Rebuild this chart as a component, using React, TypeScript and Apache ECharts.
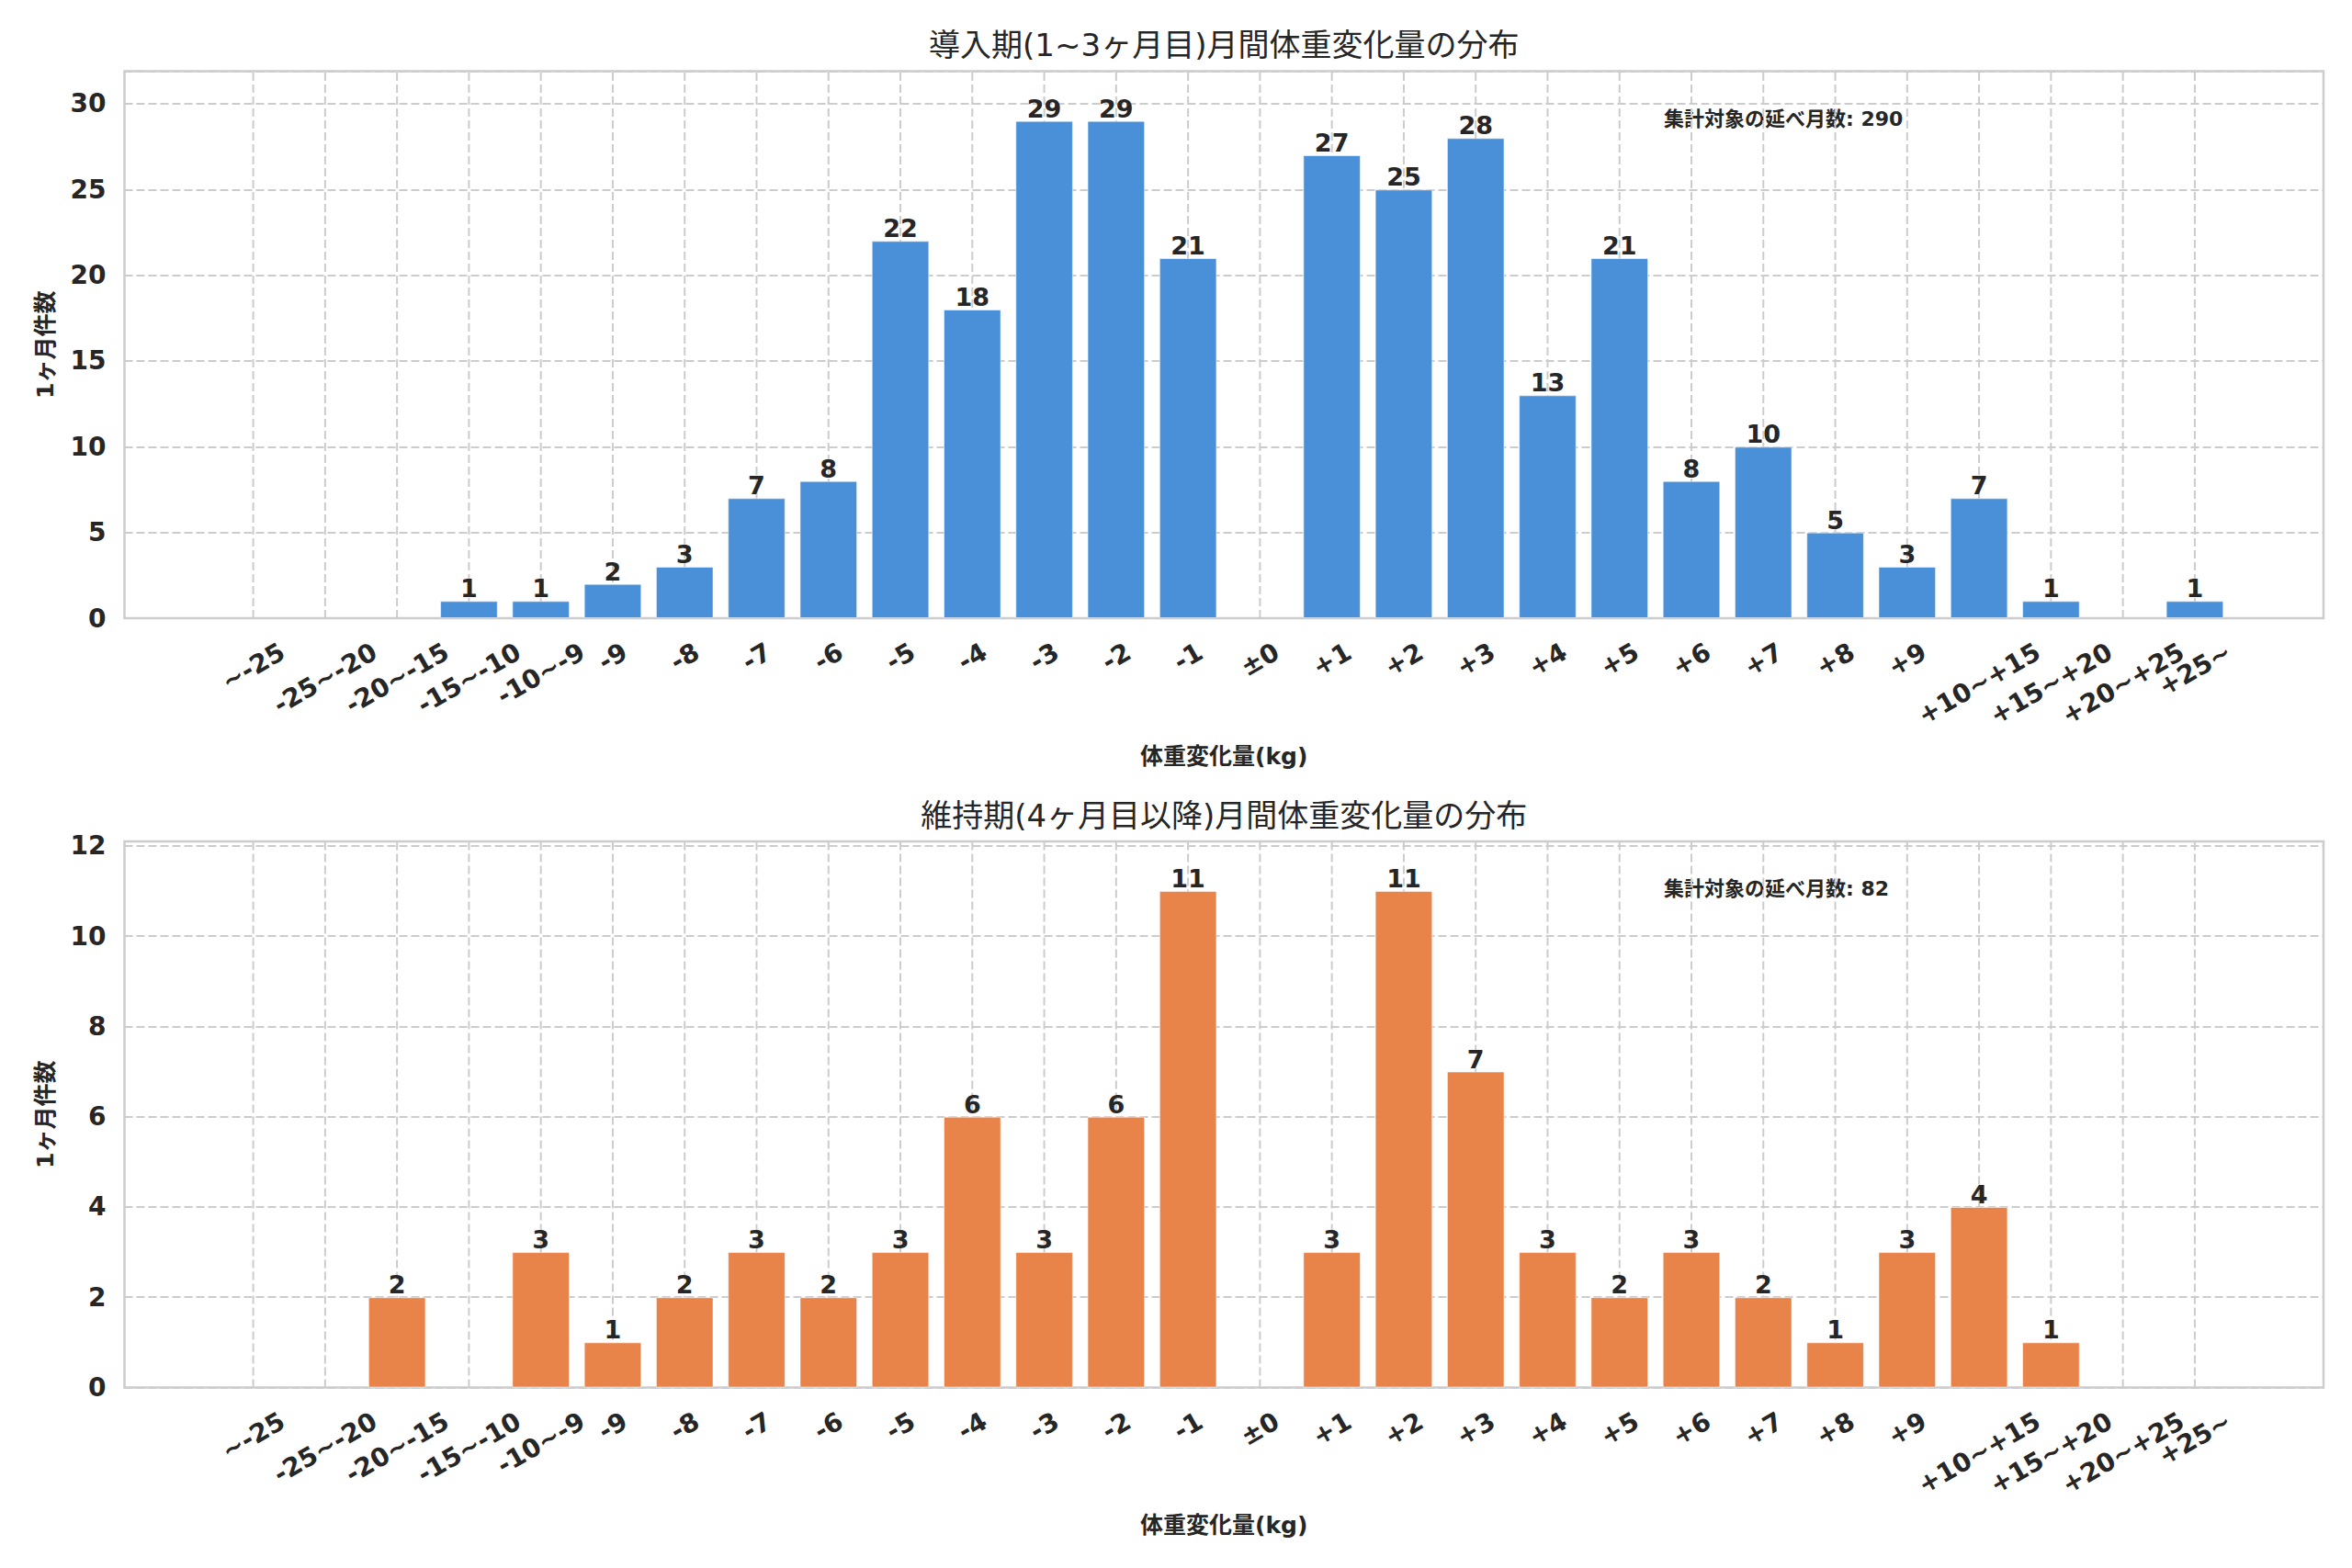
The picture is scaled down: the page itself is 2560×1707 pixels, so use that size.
import React, { useEffect, useRef } from "react";
import * as echarts from "echarts";

// ---------- data ----------
const categories = [
  "~-25", "-25~-20", "-20~-15", "-15~-10", "-10~-9",
  "-9", "-8", "-7", "-6", "-5", "-4", "-3", "-2", "-1",
  "±0",
  "+1", "+2", "+3", "+4", "+5", "+6", "+7", "+8", "+9",
  "+10~+15", "+15~+20", "+20~+25", "+25~",
];
const countsEarly = [0, 0, 0, 1, 1, 2, 3, 7, 8, 22, 18, 29, 29, 21, 0, 27, 25, 28, 13, 21, 8, 10, 5, 3, 7, 1, 0, 1];
const countsLate = [0, 0, 2, 0, 3, 1, 2, 3, 2, 3, 6, 3, 6, 11, 0, 3, 11, 7, 3, 2, 3, 2, 1, 3, 4, 1, 0, 0];
const panelTitles = ["導入期(1~3ヶ月目)月間体重変化量の分布", "維持期(4ヶ月目以降)月間体重変化量の分布"];
const panelTotals = [290, 82];
const yMaxes = [31.9, 12.1];
const yIntervals = [5, 2];
const noteLabel = "集計対象の延べ月数";
const xAxisTitle = "体重変化量(kg)";
const yAxisTitle = "1ヶ月件数";
const barColors = ["#4A90D9", "#E8834A"];

// ---------- layout / style ----------
const W = 2560;
const H = 1707;
const FONT = "'DejaVu Sans', 'Noto Sans CJK JP', sans-serif";
const TEXT = "#262626";
const GRIDC = "#cccccc";
const plotLeft = 135.5;
const plotRight = 2529;
const plotW = plotRight - plotLeft;
const panelTops = [77.5, 916];
const panelHeights = [595.5, 594.5];
const xMin = -1.79;
const xMax = 28.79;
const tickFont = 28;
const tickPad = 20;
const rot = Math.PI / 6;

let measureCtx: CanvasRenderingContext2D | null = null;
function textWidth(t: string, font: string): number {
  if (!measureCtx) {
    const c = document.createElement("canvas");
    measureCtx = c.getContext("2d");
  }
  if (!measureCtx) return t.length * tickFont * 0.65;
  measureCtx.font = font;
  return measureCtx.measureText(t).width;
}

function buildOption() {
  const counts = [countsEarly, countsLate];
  const unitPx = plotW / (xMax - xMin);
  const grid: any[] = [];
  const xAxis: any[] = [];
  const yAxis: any[] = [];
  const series: any[] = [];
  const graphic: any[] = [];

  for (let p = 0; p < 2; p++) {
    const yMax = yMaxes[p];
    grid.push({
      left: plotLeft,
      top: panelTops[p],
      width: plotW,
      height: panelHeights[p],
      show: true,
      borderColor: GRIDC,
      borderWidth: 2.5,
      backgroundColor: "#ffffff",
      containLabel: false,
    });
    xAxis.push({
      type: "value",
      gridIndex: p,
      min: xMin,
      max: xMax,
      show: false,
    });
    yAxis.push({
      type: "value",
      gridIndex: p,
      min: 0,
      max: yMax,
      interval: yIntervals[p],
      axisLine: { show: false },
      axisTick: { show: false },
      axisLabel: {
        showMaxLabel: false,
        margin: 20,
        fontSize: tickFont,
        fontWeight: "bold",
        color: TEXT,
        fontFamily: FONT,
        formatter: (v: number) => (Math.abs(v % yIntervals[p]) < 1e-9 ? String(v) : ""),
      },
      splitLine: {
        show: true,
        lineStyle: { color: GRIDC, width: 2, type: [9, 4] },
      },
    });

    // vertical dashed grid lines + rotated category labels (matplotlib-like centered rotation)
    series.push({
      type: "custom",
      xAxisIndex: p,
      yAxisIndex: p,
      z: 1,
      clip: false,
      silent: true,
      data: categories.map((_, i) => [i, 0]),
      encode: { x: 0, y: 1 },
      renderItem: (params: any, api: any) => {
        const i = api.value(0);
        const base = api.coord([i, 0]);
        const top = api.coord([i, yMax]);
        const label = categories[i];
        const font = `bold ${tickFont}px ${FONT}`;
        const w = textWidth(label, font);
        const h = tickFont * 1.17;
        const bh = w * Math.sin(rot) + h * Math.cos(rot);
        return {
          type: "group",
          children: [
            {
              type: "line",
              shape: { x1: base[0], y1: base[1], x2: top[0], y2: top[1] },
              style: { stroke: GRIDC, lineWidth: 2, lineDash: [9, 4] },
            },
            {
              type: "text",
              x: base[0],
              y: base[1] + tickPad + bh / 2,
              rotation: rot,
              style: {
                text: label,
                x: 0,
                y: 0,
                align: "center",
                verticalAlign: "middle",
                fontSize: tickFont,
                fontWeight: "bold",
                fontFamily: FONT,
                fill: TEXT,
              },
            },
          ],
        };
      },
    });

    series.push({
      type: "bar",
      xAxisIndex: p,
      yAxisIndex: p,
      z: 2,
      barWidth: 0.8 * unitPx,
      data: counts[p].map((v, i) =>
        v > 0 ? [i, v] : { value: [i, 0], itemStyle: { opacity: 0, borderWidth: 0 } }
      ),
      itemStyle: {
        color: barColors[p],
        borderColor: "rgba(255,255,255,0.55)",
        borderWidth: 1,
      },
      label: {
        show: true,
        position: "top",
        distance: 0,
        fontSize: 27,
        fontWeight: "bold",
        color: TEXT,
        fontFamily: FONT,
        formatter: (prm: any) => (prm.value[1] > 0 ? String(prm.value[1]) : ""),
      },
    });

    const cx = plotLeft + plotW / 2;
    const topY = panelTops[p];
    const botY = panelTops[p] + panelHeights[p];
    graphic.push({
      type: "text",
      x: cx,
      y: topY - 28.5,
      style: {
        text: panelTitles[p],
        align: "center",
        verticalAlign: "middle",
        fontSize: 34,
        fontFamily: FONT,
        fill: TEXT,
      },
    });
    graphic.push({
      type: "text",
      x: cx,
      y: botY + 150,
      style: {
        text: xAxisTitle,
        align: "center",
        verticalAlign: "middle",
        fontSize: 25,
        fontWeight: "bold",
        fontFamily: FONT,
        fill: TEXT,
      },
    });
    graphic.push({
      type: "text",
      x: 49,
      y: topY + panelHeights[p] / 2,
      rotation: Math.PI / 2,
      style: {
        text: yAxisTitle,
        align: "center",
        verticalAlign: "middle",
        fontSize: 25,
        fontWeight: "bold",
        fontFamily: FONT,
        fill: TEXT,
      },
    });
    graphic.push({
      type: "text",
      x: plotLeft + plotW * 0.7,
      y: topY + panelHeights[p] * 0.087,
      style: {
        text: `${noteLabel}: ${panelTotals[p]}`,
        align: "left",
        verticalAlign: "middle",
        fontSize: 22,
        fontWeight: "bold",
        fontFamily: FONT,
        fill: TEXT,
      },
    });
  }

  return {
    animation: false,
    backgroundColor: "#ffffff",
    textStyle: { fontFamily: FONT },
    grid,
    xAxis,
    yAxis,
    series,
    graphic,
  };
}

export default function App() {
  const ref = useRef<HTMLDivElement>(null);
  useEffect(() => {
    if (!ref.current) return;
    const chart = echarts.init(ref.current, undefined, { renderer: "svg" });
    chart.setOption(buildOption() as any);
    return () => chart.dispose();
  }, []);
  return (
    <div
      ref={ref}
      style={{ position: "absolute", left: 0, top: 0, width: W, height: H, background: "#ffffff" }}
    />
  );
}
